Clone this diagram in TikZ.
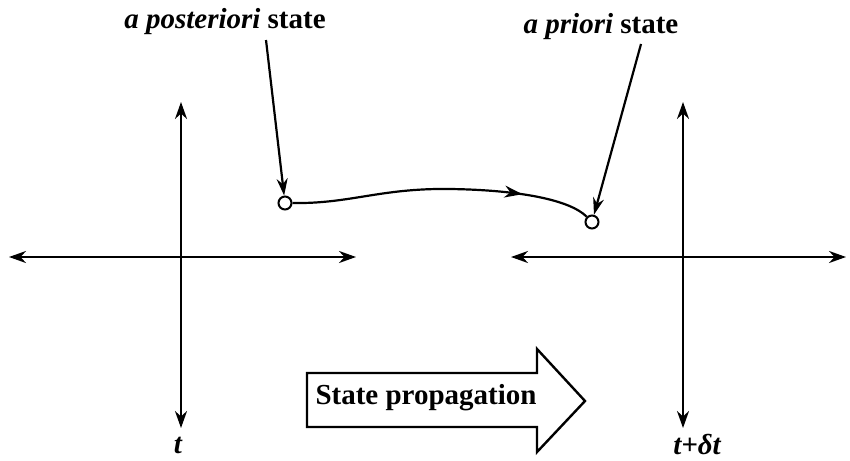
\documentclass[tikz,border=0pt]{standalone}
\usepackage{fontspec}
\setmainfont{Liberation Serif}
\usetikzlibrary{arrows.meta,decorations.markings}
\begin{document}
\begin{tikzpicture}[x=1pt,y=-1pt,
  ax/.style={line width=2.4pt,{Stealth[length=17pt,width=12pt]}-{Stealth[length=17pt,width=12pt]}},
  ptr/.style={line width=2.2pt,-{Stealth[length=17pt,width=11pt]}},
  pt/.style={circle,draw,line width=2pt,fill=white,minimum size=13pt,inner sep=0pt},
  lbl/.style={font=\fontsize{29}{34}\selectfont\bfseries},
  tl/.style={font=\fontsize{29}{34}\selectfont\bfseries\itshape}
]
\useasboundingbox (0,0) rectangle (850,460);
% left axes
\coordinate (lt) at (181,102); \coordinate (lb) at (181,428);
\coordinate (ll) at (9,257); \coordinate (lr) at (356,257);
\draw[ax] (lt) -- (lb);
\draw[ax] (ll) -- (lr);
% right axes
\coordinate (rt) at (683,102); \coordinate (rb) at (683,428);
\coordinate (rl) at (511,257); \coordinate (rr) at (846,257);
\draw[ax] (rt) -- (rb);
\draw[ax] (rl) -- (rr);
\node[tl] (t1) at (178,445) {t};
\node[tl] (t2) at (697,445) {t+δt};
% labels
\node[lbl] (post) at (225,22) {\textit{a posteriori} state};
\node[lbl] (prio) at (601,27) {\textit{a priori} state};
\coordinate (ps) at (266,40);
\coordinate (pr) at (641,44);
% points
\node[pt] (lc) at (285,203) {};
\node[pt] (rc) at (592,222) {};
\draw[line width=2.2pt,
  postaction={decorate,decoration={markings,mark=at position 0.77 with {\arrow{Stealth[length=18pt,width=12pt]}}}}]
  (lc.east) .. controls (350,204) and (380,188) .. (450,189)
  .. controls (520,190) and (570,200) .. (rc.north west);
\draw[ptr] (ps) -- (lc);
\draw[ptr] (pr) -- (rc);
% block arrow
\draw[line width=2.4pt,fill=white] (307,373) -- (537,373) -- (537,349) -- (585,401) -- (537,452) -- (537,427) -- (307,427) -- cycle;
\node[lbl,anchor=west] (sp) at (312,398) {State propagation};
\end{tikzpicture}
\end{document}
